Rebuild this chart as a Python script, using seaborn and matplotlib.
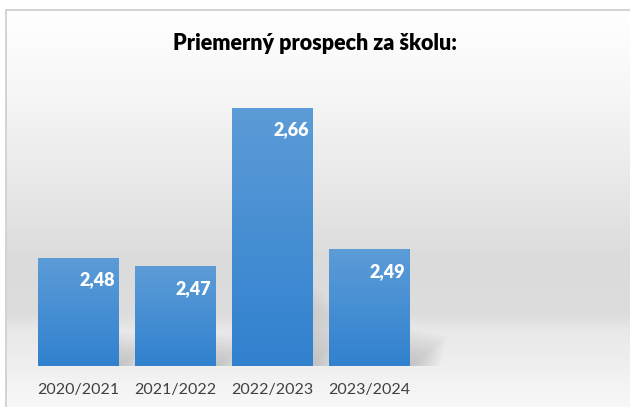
import numpy as np
import pandas as pd
import seaborn as sns
import matplotlib.pyplot as plt
from matplotlib.colors import LinearSegmentedColormap
from matplotlib.patches import Polygon, Rectangle

# data
seasons = ["2020/2021", "2021/2022", "2022/2023", "2023/2024"]
averages = [2.48, 2.47, 2.66, 2.49]
title = "Priemerný prospech za školu:"

W, H = 630, 407
BASE = 2.35


def main():
    sns.set_theme(style="white")
    plt.rcParams['font.family'] = ['Lato', 'DejaVu Sans']

    df = pd.DataFrame({"season": seasons, "avg": averages})

    fig = plt.figure(figsize=(W / 100, H / 100), dpi=100)
    fig.patch.set_facecolor("white")

    # chart area background: vertical grey gradient + frame
    bg = fig.add_axes([6 / W, 0, 1 - 6 / W, 1 - 10 / H], zorder=-10)
    stops = [(0.0, "#ffffff"), (0.176, "#f8f8f8"), (0.378, "#ececec"),
             (0.63, "#dbdbdb"), (0.768, "#dddddd"), (0.806, "#e8e8e8"),
             (0.932, "#f2f2f2"), (1.0, "#f8f8f8")]
    bg_cmap = LinearSegmentedColormap.from_list("bg", stops)
    bg.imshow(np.linspace(0, 1, 400).reshape(-1, 1), cmap=bg_cmap, aspect="auto",
              extent=[0, 1, 0, 1], origin="upper")
    bg.set_axis_off()
    fig.add_artist(plt.Line2D([6 / W, 1], [1 - 9.5 / H] * 2, color="#d3d3d3", lw=1.4))
    fig.add_artist(plt.Line2D([6 / W] * 2, [0, 1 - 9.5 / H], color="#d3d3d3", lw=1.4))

    ax = fig.add_axes([29.5 / W, 41 / H, 582 / W, 291.5 / H])
    ax.set_facecolor("none")
    sns.barplot(data=df, x="season", y="avg", width=0.825, color="#5b9bd5", ax=ax)

    bars = list(ax.patches)
    bar_cmap = LinearSegmentedColormap.from_list("bar", ["#3181cf", "#5c9cd7"])
    for p in bars:
        x0, w = p.get_x(), p.get_width()
        x1 = x0 + w
        top = p.get_y() + p.get_height()
        h = top - BASE

        # soft shadow to the lower right
        for k in range(12):
            s = 1 - k / 12
            poly = Polygon([(x1, BASE), (x1, BASE + 0.32 * h * s),
                            (x1 + 0.36 * s + 0.02, BASE + (0.11 * h + 0.02) * s),
                            (x1 + 0.30 * s + 0.02, BASE)],
                           closed=True, facecolor="#666666", edgecolor="none",
                           alpha=0.027, zorder=0.5)
            ax.add_patch(poly)

        # gradient fill, lighter at the top
        clip = Rectangle((x0, BASE), w, h, transform=ax.transData, facecolor="none",
                         edgecolor="none")
        ax.add_patch(clip)
        im = ax.imshow(np.linspace(0, 1, 128).reshape(-1, 1), cmap=bar_cmap, aspect="auto",
                       extent=[x0, x1, BASE, top], origin="lower", zorder=2)
        im.set_clip_path(clip)
        p.set_visible(False)

    ax.set_xlim(-0.5, 5.5)
    ax.set_ylim(BASE, 2.70)

    # value labels inside the bars
    for i, v in enumerate(averages):
        ax.text(i + 0.825 / 2 - 0.035, v - 0.0265, f"{v:.2f}".replace(".", ","),
                ha="right", va="center", color="white", fontsize=13,
                fontweight="heavy", zorder=5)

    ax.set_xlabel("")
    ax.set_ylabel("")
    ax.set_yticks([])
    ax.set_xticks(range(len(seasons)))
    ax.set_xticklabels(seasons)
    ax.tick_params(axis="x", length=0, pad=12, labelsize=11.5, labelcolor="#404040")
    sns.despine(ax=ax, left=True, bottom=True)

    fig.text(0.5, 1 - 43 / H, title, ha="center", va="center",
             fontsize=15.5, fontweight="heavy", color="#000000")

    fig.savefig("out.png", dpi=100)


if __name__ == '__main__':
    main()
